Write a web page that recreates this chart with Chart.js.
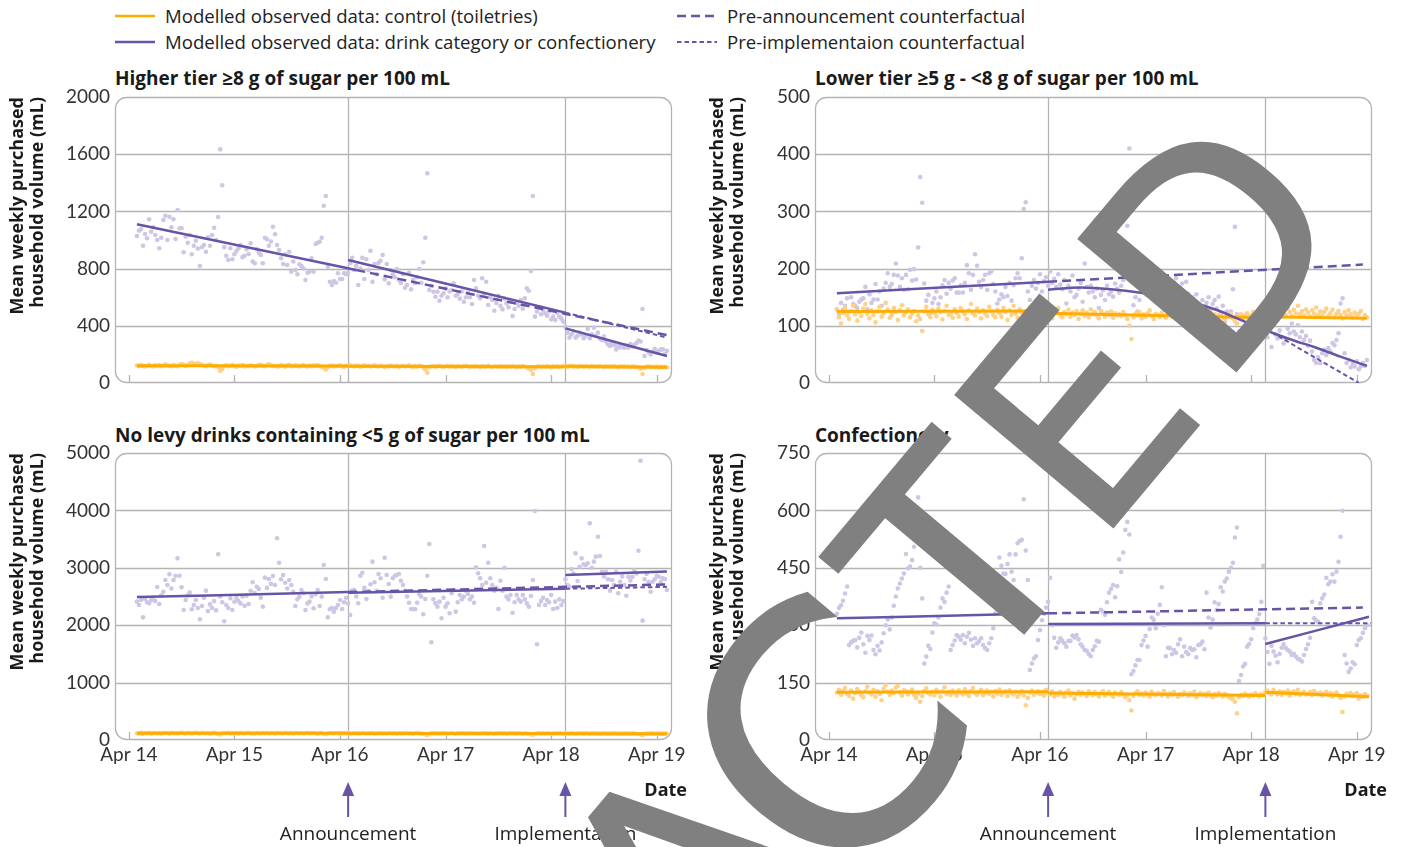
<!DOCTYPE html>
<html><head><meta charset="utf-8">
<script src="https://cdn.jsdelivr.net/npm/chart.js@4.4.1/dist/chart.umd.min.js"></script>
<style>
html,body{margin:0;padding:0;background:#fff}
body{width:1402px;height:847px;overflow:hidden;position:relative;font-family:"Open Sans","Noto Sans",sans-serif;color:#222}
.t{position:absolute;white-space:nowrap;line-height:20px}
.leg{font-size:18.6px}
.ttl{font-size:19px;font-weight:bold;color:#1a1a1a}
.date{font-size:18px;font-weight:bold;color:#1a1a1a;text-align:right;width:80px}
canvas{position:absolute}
#redact{position:absolute;left:0;top:0;pointer-events:none}
</style></head><body>

<svg class="t" style="left:115px;top:10px" width="40" height="12"><line x1="0" y1="6" x2="40" y2="6" stroke="#ffad00" stroke-width="2.5"/></svg>
<svg class="t" style="left:115px;top:36px" width="40" height="12"><line x1="0" y1="6" x2="40" y2="6" stroke="#6754a6" stroke-width="2.5"/></svg>
<svg class="t" style="left:677px;top:10px" width="40" height="12"><line x1="0" y1="6" x2="40" y2="6" stroke="#6754a6" stroke-width="2.5" stroke-dasharray="9 5"/></svg>
<svg class="t" style="left:677px;top:36px" width="40" height="12"><line x1="0" y1="6" x2="40" y2="6" stroke="#6754a6" stroke-width="2" stroke-dasharray="4.5 3"/></svg>
<div class="t leg" style="left:165px;top:6px">Modelled observed data: control (toiletries)</div>
<div class="t leg" style="left:165px;top:32px">Modelled observed data: drink category or confectionery</div>
<div class="t leg" style="left:727px;top:6px">Pre-announcement counterfactual</div>
<div class="t leg" style="left:727px;top:32px">Pre-implementaion counterfactual</div>

<div class="t ttl" style="left:115px;top:68px">Higher tier ≥8 g of sugar per 100 mL</div>
<div class="t ttl" style="left:815px;top:68px">Lower tier ≥5 g - &lt;8 g of sugar per 100 mL</div>
<div class="t ttl" style="left:115px;top:425px">No levy drinks containing &lt;5 g of sugar per 100 mL</div>
<div class="t ttl" style="left:815px;top:425px">Confectionery</div>

<canvas id="p1" width="690" height="312" style="left:0;top:88px"></canvas>
<canvas id="p2" width="690" height="312" style="left:700px;top:88px"></canvas>
<canvas id="p3" width="690" height="402" style="left:0;top:445px"></canvas>
<canvas id="p4" width="690" height="402" style="left:700px;top:445px"></canvas>

<div class="t date" style="left:607px;top:779px">Date</div>
<div class="t date" style="left:1307px;top:779px">Date</div>

<svg id="redact" width="1402" height="847">
<text transform="translate(1033,622) rotate(-50)" font-family="DejaVu Sans" font-size="281" fill="#808080" stroke="#808080" stroke-width="3" text-anchor="middle"><tspan x="-1000" y="0">R</tspan><tspan x="-820" y="0">E</tspan><tspan x="-630" y="0">D</tspan><tspan x="-419" y="-9">A</tspan><tspan x="-222" y="34" font-size="335">C</tspan><tspan x="0" y="0">T</tspan><tspan x="186" y="0">E</tspan><tspan x="404" y="-6">D</tspan></text>
</svg>

<script>
// ---------- axis categories ----------
const tickWeeks = [-4, 48, 100, 152, 204, 256];
const tickLabels = ['Apr 14', 'Apr 15', 'Apr 16', 'Apr 17', 'Apr 18', 'Apr 19'];
const eventWeeks = [104, 211];
const eventLabels = ['Announcement', 'Implementation'];
const weekMin = -10.8, weekMax = 263.5;
const yTitle = ['Mean weekly purchased', 'household volume (mL)'];

// ---------- weekly observed values (week 0 .. 261) ----------
const higherDrink = [
1028,1065,1075,960,1042,1012,1145,1058,1090,1035,
1000,942,1016,1140,1170,1000,1163,1089,1145,1007,
1210,1082,1082,914,1023,980,1035,900,960,995,
940,818,949,965,918,1019,960,1035,1086,1000,
1161,1634,1383,950,890,860,942,865,900,923,
942,965,880,890,935,902,977,850,837,937,
910,895,837,1016,1005,960,990,1093,1040,965,
930,872,832,900,825,918,778,850,790,760,
830,818,800,720,771,778,872,778,972,981,
988,1016,1240,1308,813,708,685,713,701,767,
727,727,767,760,771,837,876,790,820,685,
800,876,727,865,790,925,708,832,760,840,
855,895,725,832,697,790,760,740,797,720,
700,760,666,685,771,655,720,700,740,797,
701,844,1016,1466,650,680,638,603,638,575,
610,627,660,599,640,650,697,610,622,590,
640,568,600,631,600,552,720,662,610,592,
732,620,708,545,600,580,505,560,610,540,
515,590,557,530,568,468,517,560,540,580,
520,592,662,645,783,1308,464,500,529,480,
510,487,470,500,445,464,440,492,464,450,
429,394,352,317,340,360,317,330,352,340,
313,330,378,313,340,387,330,352,310,300,
324,290,270,259,280,265,235,260,249,255,
247,262,247,273,255,268,280,296,290,517,
189,230,215,200,219,240,214,225,235,235,
203,225];
const higherControl = [
122,118,125,120,116,121,127,119,115,123,120,126,118,122,131,124,119,117,125,121,
118,126,132,128,120,124,137,142,135,128,140,133,126,121,118,124,129,122,117,120,
112,86,98,119,123,117,121,126,118,114,122,119,125,116,120,118,124,121,115,119,
123,128,120,117,126,131,124,119,121,116,118,125,120,114,122,127,119,117,123,120,
116,121,125,119,115,122,118,124,120,126,117,113,108,95,112,118,122,116,120,119,
124,117,113,121,118,125,119,116,122,120,114,118,123,117,121,115,119,124,118,116,
121,117,112,119,115,122,118,116,120,113,117,121,115,119,123,116,112,118,114,120,
117,109,96,72,110,116,119,113,118,121,115,112,117,120,114,118,116,111,119,115,
113,118,121,116,112,117,114,119,115,111,118,113,116,120,114,110,117,115,112,118,
114,116,111,117,113,119,115,110,116,112,118,114,108,100,92,63,104,113,117,111,
115,112,118,114,109,116,113,117,111,115,119,116,113,118,120,114,117,112,116,119,
113,117,115,111,118,114,116,112,119,115,110,117,113,116,112,118,114,109,116,113,
117,112,115,110,116,113,111,108,100,63,106,113,116,110,114,112,115,109,113,111,
114,110];

const lowerDrink = [
129,121,140,128,135,148,125,150,138,135,
131,142,146,148,168,129,155,140,146,173,
146,160,135,165,175,192,168,173,189,209,
188,168,183,163,189,164,198,179,199,181,
237,360,315,174,144,154,122,140,148,160,
138,150,171,180,156,175,165,179,183,158,
158,171,158,175,206,192,163,189,225,205,
177,168,180,189,163,192,195,173,160,139,
146,155,150,168,152,175,144,171,183,192,
183,218,304,316,160,145,170,180,165,175,
190,160,178,185,170,195,175,182,168,190,
172,164,180,139,170,160,188,150,154,165,
175,142,209,168,158,170,160,150,165,131,
154,162,145,170,155,160,151,174,165,158,
170,180,190,275,410,200,136,150,125,145,
160,170,155,165,175,150,160,172,180,165,
158,175,160,170,150,168,175,183,160,166,
174,148,177,156,133,150,140,155,135,125,
145,130,140,150,128,138,145,130,151,120,
135,107,125,118,125,164,273,120,90,82,
78,81,95,88,100,92,85,98,90,105,
95,88,80,92,63,104,85,78,92,80,
69,76,95,87,104,90,85,101,80,90,
75,82,65,74,55,40,35,45,35,52,
58,49,61,55,70,66,75,87,139,148,
52,35,40,27,33,29,38,24,29,35,
30,40];
const lowerControl = [
128,115,104,122,131,118,112,126,135,120,109,124,117,130,138,121,113,127,119,106,
125,133,116,122,140,128,114,119,131,124,110,127,136,118,123,129,115,121,126,108,
118,112,91,125,133,120,115,128,122,117,130,124,111,126,135,119,121,114,129,123,
116,131,125,120,112,127,138,122,118,130,124,113,127,121,117,133,126,119,115,128,
122,116,131,124,110,127,119,135,121,114,129,123,117,126,120,132,124,118,113,127,
121,130,117,124,128,119,113,126,122,131,118,115,124,120,128,116,123,119,126,112,
121,127,117,123,115,129,120,124,118,113,126,121,116,123,119,125,114,122,118,120,
117,124,119,112,100,77,115,121,118,124,113,120,116,122,127,117,112,121,119,115,
123,118,114,120,126,116,119,113,122,117,121,125,115,118,112,120,124,116,119,114,
121,117,113,119,124,116,120,114,118,122,115,112,119,116,121,113,108,104,117,120,
114,118,122,116,119,124,113,117,121,115,120,126,118,123,130,127,120,124,133,121,
126,119,131,124,117,128,122,135,120,126,118,129,123,116,127,121,132,119,125,118,
124,130,117,122,128,115,121,126,119,113,124,118,127,120,114,123,117,121,126,112,
119,115];

const noLevyDrink = [
2410,2352,2440,2137,2456,2400,2382,2439,2480,2420,
2666,2369,2520,2584,2787,2700,2887,2640,2787,2860,
3165,2862,2660,2265,2439,2520,2567,2277,2350,2439,
2300,2103,2335,2480,2602,2247,2363,2300,2420,2259,
3235,2500,2400,2068,2352,2300,2468,2265,2410,2480,
2422,2380,2500,2340,2514,2369,2600,2747,2560,2671,
2631,2480,2323,2828,2650,2805,2720,2857,2700,3514,
3089,2800,2875,2740,2640,2787,2700,2580,2335,2450,
2497,2613,2560,2265,2380,2410,2500,2294,2538,2613,
2335,2497,3049,2805,2137,2277,2300,2236,2300,2352,
2439,2282,2400,2479,2380,2178,2602,2613,2500,2382,
2862,2915,2650,2456,2600,2712,3107,2747,2600,2892,
2817,2479,3176,2875,2717,2497,2817,2862,2875,2892,
2775,2700,2600,2500,2392,2282,2277,2277,2392,2538,
2497,2190,2456,2862,3415,1702,2450,2380,2323,2410,
2120,2479,2323,2382,2207,2556,2613,2236,2400,2526,
2450,2497,2602,2544,2450,2500,2392,3008,2904,2817,
2700,3380,2740,3089,2817,2700,2600,2653,2282,2775,
2600,3002,2497,2450,2526,2218,2400,2526,2450,2410,
2526,2450,2380,2323,2509,2787,3990,1667,2352,2420,
2479,2352,2439,2400,2526,2282,2410,2300,2450,2352,
2420,2800,2700,2671,2979,2900,3252,2770,3019,3165,
3060,3049,3078,3775,3000,3107,3194,3542,3206,2932,
2850,2932,2800,2602,2787,2700,2932,2556,2758,2850,
2700,2514,2845,2780,2845,2950,2900,3298,4866,2079,
2800,2892,2750,2584,2758,2800,2862,2845,2750,2817,
2805,2613];
const noLevyControl = [
118,112,124,109,121,115,127,110,119,123,114,120,108,126,117,122,111,125,116,119,
113,121,128,117,110,124,119,115,122,130,118,112,125,120,116,123,109,119,126,114,
104,97,115,121,118,124,112,119,116,122,110,125,117,113,120,127,115,118,111,123,
119,114,122,116,125,112,118,121,109,124,117,120,113,126,118,115,122,111,119,123,
116,121,114,118,125,112,119,123,115,110,120,117,108,100,113,121,118,114,122,116,
119,113,120,116,124,111,118,122,115,119,112,121,117,114,120,116,123,110,118,115,
121,114,117,112,119,123,115,118,111,120,116,113,119,122,114,117,110,118,121,115,
112,106,98,90,108,116,119,113,117,111,120,115,118,112,116,121,114,110,117,113,
119,115,111,118,114,120,112,116,109,117,113,119,115,111,118,114,108,116,112,119,
113,117,110,115,119,112,116,111,118,114,109,116,112,107,100,92,105,113,117,111,
115,110,116,113,108,114,111,117,112,115,110,118,114,111,116,113,109,115,112,117,
111,116,113,109,115,112,118,110,114,111,116,113,108,115,111,117,112,109,114,110,
115,111,113,108,116,112,109,105,98,88,107,113,110,115,111,108,114,110,112,109,
113,110];

const confDrink = [
330,345,352,364,383,401,248,255,259,261,
242,267,281,250,228,272,261,273,235,224,
246,234,255,279,300,315,289,320,351,375,
396,409,422,435,486,449,453,470,505,560,
634,450,370,200,218,246,238,281,305,302,
320,346,370,361,385,401,235,248,260,274,
270,262,274,253,270,280,262,246,266,253,
258,266,248,240,235,253,266,292,331,400,
477,455,435,434,460,485,440,418,485,514,
520,523,629,495,418,183,200,213,219,261,
287,313,330,346,361,424,300,267,241,255,
266,259,253,244,259,259,273,268,274,263,
250,244,235,233,225,219,235,245,259,257,
340,335,327,360,385,395,405,373,402,472,
439,490,549,570,537,172,180,195,209,209,
248,260,272,244,290,320,314,292,330,353,
399,300,219,241,240,224,235,228,250,263,
219,244,230,224,240,235,237,216,248,250,
257,237,385,320,294,315,360,340,355,399,
388,414,422,440,450,463,529,555,154,170,
192,199,244,251,263,292,305,315,329,361,
455,266,230,199,246,231,220,203,225,241,
250,240,235,231,222,225,218,212,210,205,
222,238,250,267,361,318,312,309,357,370,
380,424,407,414,433,414,440,466,531,599,
222,200,178,187,203,198,248,261,266,280,
292,300];
const confControl = [
124,131,118,127,136,121,115,129,108,122,133,126,117,112,128,139,124,119,131,113,
127,121,104,134,143,126,118,129,122,137,141,124,116,130,127,119,125,132,118,110,
121,100,115,128,135,123,119,126,117,131,124,113,127,138,120,125,118,129,122,116,
130,124,119,133,121,115,127,136,122,118,125,131,117,123,129,120,126,114,128,121,
132,118,124,127,115,130,122,119,126,113,121,128,117,91,110,124,129,118,122,127,
120,125,116,131,123,119,127,114,122,118,126,121,113,125,129,117,123,108,120,126,
118,124,121,115,127,122,117,125,120,114,123,128,116,121,126,119,113,124,120,118,
125,119,112,117,104,77,115,122,127,118,121,116,124,119,113,126,120,117,123,121,
116,128,120,114,122,118,125,119,113,121,117,124,120,115,122,118,126,112,119,123,
117,121,115,124,118,112,120,116,123,119,114,121,117,113,110,106,100,70,112,118,
115,121,117,113,119,116,122,118,114,120,117,126,129,123,119,131,124,120,127,118,
125,122,129,116,124,127,120,131,118,123,126,119,121,125,117,128,122,119,124,116,
121,126,118,123,113,120,124,117,110,73,114,121,118,123,115,119,122,108,117,113,
120,116];

// ---------- modelled trend segments [week, value] ----------
const higherPre = [[0,1110],[108,790]];
const higherPreAnnCf = [[108,790],[261,335]];
const higherPostAnn = [[104,860],[211,492]];
const higherPreImpCf = [[211,492],[261,318]];
const higherPostImp = [[211,382],[261,189]];
const higherCtrlPre = [[0,121],[104,119]];
const higherCtrlPostAnn = [[104,118],[211,114]];
const higherCtrlPostImp = [[211,117],[261,110]];

const lowerPre = [[0,157],[104,177]];
const lowerPreAnnCf = [[104,177],[259,207]];
const lowerPostAnn = [[104,163],[120,167],[135,164],[145,160],[158,153],[169,145],[180,136],[189,125],[197,113],[205,101],[212,91],[218,83],[226,73],[235,63],[248,46],[261,30]];
const lowerPreImpCf = [[211,95],[257,0]];
const lowerPostImp = [];
const lowerCtrlPre = [[0,125],[104,126]];
const lowerCtrlPostAnn = [[104,122],[211,114]];
const lowerCtrlPostImp = [[211,116],[261,113]];

const noLevyPre = [[0,2490],[104,2577]];
const noLevyPreAnnCf = [[104,2577],[261,2710]];
const noLevyPostAnn = [[104,2565],[211,2635]];
const noLevyPreImpCf = [[211,2635],[261,2668]];
const noLevyPostImp = [[211,2875],[261,2935]];
const noLevyCtrlPre = [[0,118],[104,116]];
const noLevyCtrlPostAnn = [[104,115],[211,112]];
const noLevyCtrlPostImp = [[211,112],[261,110]];

const confPre = [[0,318],[104,331]];
const confPreAnnCf = [[104,331],[259,346]];
const confPostAnn = [[104,303],[211,305]];
const confPreImpCf = [[211,305],[263,305]];
const confPostImp = [[211,251],[262,322]];
const confCtrlPre = [[0,125],[104,126]];
const confCtrlPostAnn = [[104,123],[211,116]];
const confCtrlPostImp = [[211,125],[262,113]];

// ---------- styling ----------
const PURPLE = '#6754a6', LAVENDER = '#cdc6e5', ORANGE = '#ffad00', PEACH = '#ffd086';
const GRID = '#b4b4b4', TICKFONT = 'Lato', TEXTFONT = '"Open Sans"';

const decorPlugin = {
  id: 'decor',
  beforeDatasetsDraw(chart) {
    const {ctx, chartArea: a, scales: {x, y}} = chart;
    ctx.save();
    ctx.strokeStyle = GRID; ctx.lineWidth = 1.3;
    ctx.beginPath();
    y.ticks.forEach(t => {
      if (t.value <= y.min || t.value >= y.max) return;
      const py = Math.round(y.getPixelForValue(t.value)) + 0.5;
      ctx.moveTo(a.left, py); ctx.lineTo(a.right, py);
    });
    eventWeeks.forEach(w => {
      const px = Math.round(x.getPixelForValue(w)) + 0.5;
      ctx.moveTo(px, a.top); ctx.lineTo(px, a.bottom);
    });
    tickWeeks.forEach(w => {
      const px = Math.round(x.getPixelForValue(w)) + 0.5;
      ctx.moveTo(px, a.bottom - 8); ctx.lineTo(px, a.bottom);
    });
    ctx.stroke();
    ctx.beginPath();
    ctx.roundRect(a.left + 0.5, a.top + 0.5, a.right - a.left - 1, a.bottom - a.top - 1, 11);
    ctx.stroke();
    ctx.restore();
  },
  afterDraw(chart, args, opts) {
    if (!opts.arrows) return;
    const {ctx, chartArea: a, scales: {x}} = chart;
    ctx.save();
    eventWeeks.forEach((w, i) => {
      const px = x.getPixelForValue(w);
      const tip = a.bottom + 42;
      ctx.fillStyle = PURPLE; ctx.strokeStyle = PURPLE; ctx.lineWidth = 2;
      ctx.beginPath(); ctx.moveTo(px, tip); ctx.lineTo(px - 6, tip + 14); ctx.lineTo(px + 6, tip + 14); ctx.closePath(); ctx.fill();
      ctx.beginPath(); ctx.moveTo(px, tip + 12); ctx.lineTo(px, a.bottom + 77); ctx.stroke();
      ctx.fillStyle = '#222'; ctx.font = '19px ' + TEXTFONT; ctx.textAlign = 'center'; ctx.textBaseline = 'middle';
      ctx.fillText(eventLabels[i], px, a.bottom + 95);
    });
    ctx.restore();
  }
};

const toPts = vals => vals.map((v, i) => ({x: i, y: v}));
const toSeg = arr => arr.map(([x, y]) => ({x, y}));
function lineDs(arr, color, width, dash, order) {
  return {data: toSeg(arr), showLine: true, borderColor: color, borderWidth: width, borderDash: dash,
    pointRadius: 0, pointHoverRadius: 0, fill: false, order, cubicInterpolationMode: 'monotone', tension: 0.4};
}

function makePanel(id, p) {
  const canvas = document.getElementById(id);
  const datasets = [
    {data: toPts(p.drink), backgroundColor: LAVENDER, borderWidth: 0, pointRadius: 2.3, order: 10},
    {data: toPts(p.control), backgroundColor: PEACH, borderWidth: 0, pointRadius: 2.3, order: 9},
    ...p.ctrl.map(s => lineDs(s, ORANGE, 3, [], 5)),
    lineDs(p.dashed, PURPLE, 2.5, [9, 5], 3),
    lineDs(p.dotted, PURPLE, 2, [4.5, 3], 3),
    ...p.solid.filter(s => s.length).map(s => lineDs(s, PURPLE, 2.5, [], 2))
  ];
  const xHeight = p.showX ? 107 : 17;
  new Chart(canvas, {
    type: 'scatter',
    data: {datasets},
    options: {
      responsive: false, animation: false, events: [],
      layout: {padding: {top: p.showX ? 8 : 9, right: 18, left: 0, bottom: 0}},
      plugins: {legend: {display: false}, tooltip: {enabled: false}, decor: {arrows: p.showX}},
      scales: {
        x: {
          type: 'linear', min: weekMin, max: weekMax,
          grid: {display: false, drawTicks: false}, border: {display: false},
          afterBuildTicks: s => { s.ticks = tickWeeks.map(v => ({value: v})); },
          afterFit: s => { s.height = xHeight; s.paddingLeft = 0; s.paddingRight = 0; },
          ticks: {display: p.showX, autoSkip: false, maxRotation: 0, padding: 3,
            font: {family: TICKFONT, size: 19}, color: '#333', callback: (v, i) => tickLabels[i]}
        },
        y: {
          min: 0, max: p.yMax,
          grid: {display: false, drawTicks: false}, border: {display: false},
          afterFit: s => { s.width = 115; s.paddingTop = 0; s.paddingBottom = 0; },
          ticks: {stepSize: p.yStep, padding: 5, font: {family: TICKFONT, size: 19}, color: '#333',
            callback: v => String(v)},
          title: {display: true, text: yTitle, align: 'end', color: '#1a1a1a',
            font: {family: TEXTFONT, size: 18, weight: 'bold', lineHeight: 1.12}, padding: {top: 8, bottom: 0}}
        }
      }
    },
    plugins: [decorPlugin]
  });
}

makePanel('p1', {drink: higherDrink, control: higherControl, yMax: 2000, yStep: 400, showX: false,
  ctrl: [higherCtrlPre, higherCtrlPostAnn, higherCtrlPostImp],
  solid: [higherPre, higherPostAnn, higherPostImp], dashed: higherPreAnnCf, dotted: higherPreImpCf});
makePanel('p2', {drink: lowerDrink, control: lowerControl, yMax: 500, yStep: 100, showX: false,
  ctrl: [lowerCtrlPre, lowerCtrlPostAnn, lowerCtrlPostImp],
  solid: [lowerPre, lowerPostAnn, lowerPostImp], dashed: lowerPreAnnCf, dotted: lowerPreImpCf});
makePanel('p3', {drink: noLevyDrink, control: noLevyControl, yMax: 5000, yStep: 1000, showX: true,
  ctrl: [noLevyCtrlPre, noLevyCtrlPostAnn, noLevyCtrlPostImp],
  solid: [noLevyPre, noLevyPostAnn, noLevyPostImp], dashed: noLevyPreAnnCf, dotted: noLevyPreImpCf});
makePanel('p4', {drink: confDrink, control: confControl, yMax: 750, yStep: 150, showX: true,
  ctrl: [confCtrlPre, confCtrlPostAnn, confCtrlPostImp],
  solid: [confPre, confPostAnn, confPostImp], dashed: confPreAnnCf, dotted: confPreImpCf});
</script>
</body></html>
